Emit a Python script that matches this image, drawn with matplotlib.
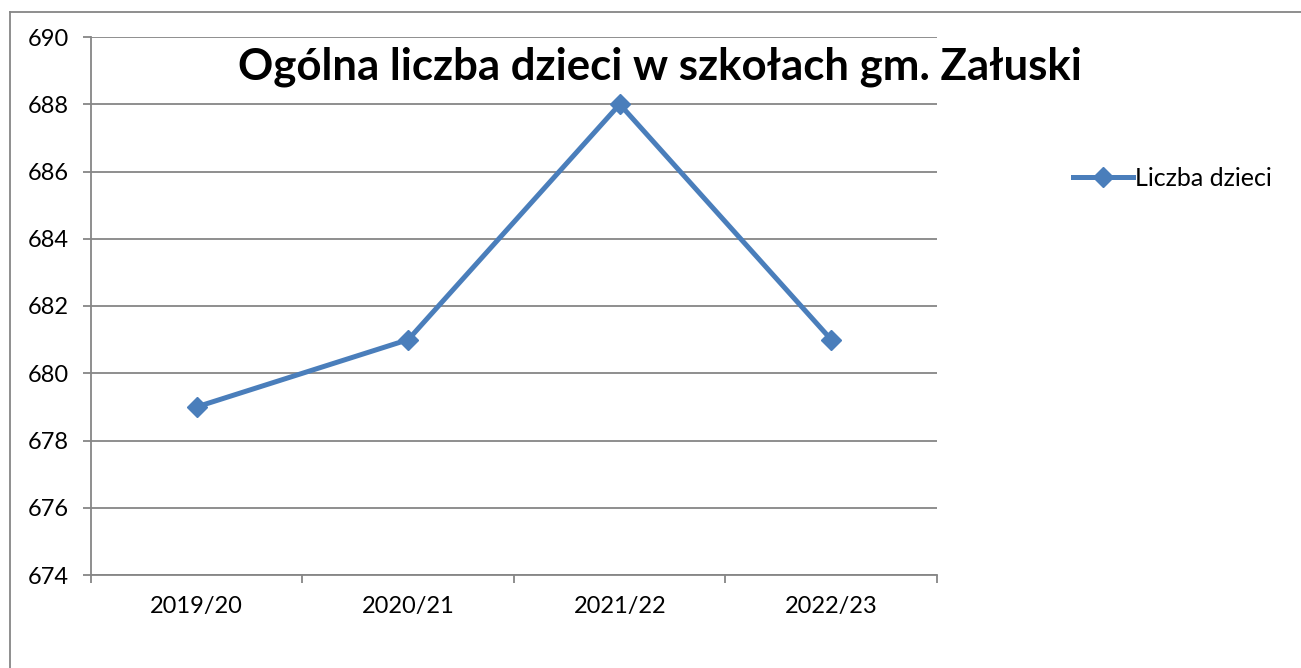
import matplotlib.pyplot as plt
from matplotlib.lines import Line2D

# data
years = ["2019/20", "2020/21", "2021/22", "2022/23"]
children = [679, 681, 688, 681]
series_name = "Liczba dzieci"
title = "Ogólna liczba dzieci w szkołach gm. Załuski"

plt.rcParams["font.family"] = ["Lato", "DejaVu Sans"]

fig = plt.figure(figsize=(13.01, 6.68), dpi=100)
ax = fig.add_axes([91 / 1301, 1 - 575 / 668, (937 - 91) / 1301, (575 - 37) / 668])

x = [i + 0.5 for i in range(len(years))]
ax.plot(x, children, color="#4A7EBB", lw=3.6, marker="D", markersize=10,
        label=series_name)

ax.set_xlim(0, len(years))
ax.set_ylim(674, 690)
ax.set_yticks(range(674, 691, 2))
ax.set_xticks(range(len(years) + 1))
ax.set_xticklabels([])
ax.set_xticks(x, minor=True)
ax.set_xticklabels(years, minor=True)
ax.tick_params(axis="x", which="minor", length=0, pad=15, labelsize=17)
ax.tick_params(axis="x", which="major", length=6, color="#868686", width=1.3)
ax.tick_params(axis="y", length=6, color="#868686", width=1.3, labelsize=17, pad=10)

ax.grid(axis="y", color="#868686", lw=1.3)
ax.set_axisbelow(True)
for s in ["top", "right"]:
    ax.spines[s].set_visible(False)
for s in ["left", "bottom"]:
    ax.spines[s].set_color("#868686")
    ax.spines[s].set_linewidth(1.3)

fig.text(660 / 1301, 1 - 67 / 668, title, ha="center", va="center",
         fontsize=31.5, fontweight="bold")

handle = Line2D([], [], color="#4A7EBB", lw=3.6, marker="D", markersize=10)
fig.legend([handle], [series_name], loc="center left",
           bbox_to_anchor=(1050 / 1301, 1 - 178 / 668), frameon=False,
           fontsize=18, handlelength=2.4, handletextpad=0.1)

# figure border (left and top visible)
fig.add_artist(Line2D([10 / 1301, 10 / 1301], [0, 1 - 12 / 668],
                      transform=fig.transFigure, color="#868686", lw=1.3))
fig.add_artist(Line2D([10 / 1301, 1], [1 - 12 / 668, 1 - 12 / 668],
                      transform=fig.transFigure, color="#868686", lw=1.3))

fig.savefig("out.png", dpi=100)
plt.close(fig)
